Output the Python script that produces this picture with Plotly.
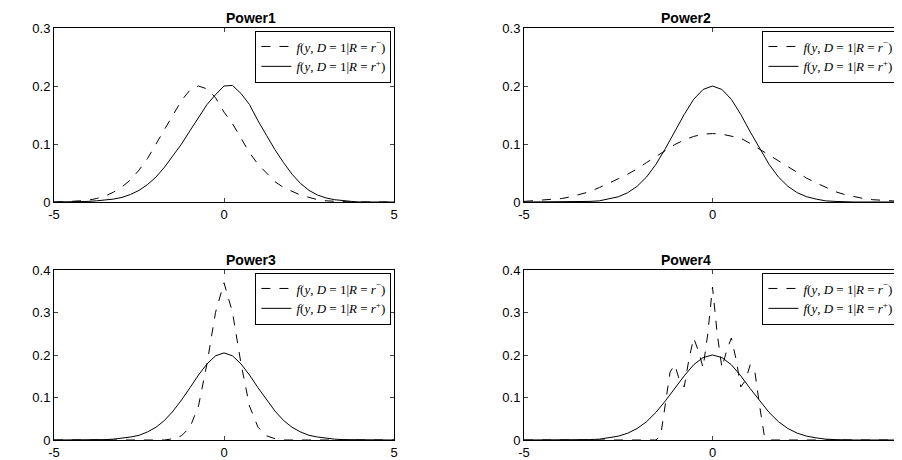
import plotly.graph_objects as go
from plotly.subplots import make_subplots

x = [-5, -4.75, -4.5, -4.25, -4, -3.75, -3.5, -3.25, -3, -2.75, -2.5, -2.25, -2, -1.75, -1.5, -1.25, -1, -0.75, -0.5, -0.25,
     0, 0.25, 0.5, 0.75, 1, 1.25, 1.5, 1.75, 2, 2.25, 2.5, 2.75, 3, 3.25, 3.5, 3.75, 4, 4.25, 4.5, 4.75, 5]

p1_minus = [0, 0, 0.001, 0.002, 0.003, 0.006, 0.01, 0.017, 0.026, 0.038, 0.055, 0.075, 0.1, 0.125, 0.15, 0.175, 0.193, 0.2, 0.195, 0.18,
            0.155, 0.135, 0.11, 0.085, 0.065, 0.05, 0.035, 0.025, 0.018, 0.012, 0.008, 0.004, 0.002, 0.001, 0, 0, 0, 0, 0, 0, 0]
p1_plus = [0, 0, 0, 0, 0.001, 0.002, 0.003, 0.005, 0.008, 0.013, 0.02, 0.03, 0.043, 0.06, 0.08, 0.1, 0.123, 0.145, 0.168, 0.185,
           0.2, 0.201, 0.187, 0.168, 0.14, 0.115, 0.09, 0.068, 0.048, 0.032, 0.02, 0.012, 0.007, 0.004, 0.002, 0.001, 0, 0, 0, 0, 0]

p2_minus = [0.001, 0.002, 0.003, 0.004, 0.006, 0.009, 0.013, 0.018, 0.025, 0.032, 0.04, 0.048, 0.057, 0.068, 0.078, 0.088, 0.099, 0.107, 0.113, 0.117,
            0.118, 0.117, 0.114, 0.11, 0.101, 0.091, 0.081, 0.071, 0.061, 0.051, 0.041, 0.033, 0.025, 0.018, 0.013, 0.009, 0.006, 0.004, 0.003, 0.002, 0.001]
p2_plus = [0, 0, 0, 0, 0, 0, 0, 0.001, 0.002, 0.005, 0.009, 0.016, 0.027, 0.043, 0.065, 0.092, 0.121, 0.151, 0.177, 0.194,
           0.2, 0.194, 0.177, 0.151, 0.121, 0.092, 0.065, 0.043, 0.027, 0.016, 0.009, 0.005, 0.002, 0.001, 0, 0, 0, 0, 0, 0, 0]

p3_minus = [0, 0, 0, 0, 0, 0, 0, 0, 0, 0, 0, 0, 0, 0, 0.003, 0.01, 0.03, 0.08, 0.18, 0.3,
            0.37, 0.3, 0.18, 0.08, 0.03, 0.01, 0.003, 0, 0, 0, 0, 0, 0, 0, 0, 0, 0, 0, 0, 0, 0]
p3_plus = [0, 0, 0, 0, 0, 0.001, 0.001, 0.002, 0.004, 0.007, 0.011, 0.019, 0.03, 0.046, 0.068, 0.094, 0.123, 0.153, 0.179, 0.198,
           0.205, 0.198, 0.179, 0.153, 0.123, 0.094, 0.068, 0.046, 0.03, 0.019, 0.011, 0.007, 0.004, 0.002, 0.001, 0.001, 0, 0, 0, 0, 0]

x4 = [-5, -1.5, -1.375, -1.25, -1.125, -1, -0.875, -0.75, -0.625, -0.5, -0.375, -0.25, -0.125,
      0, 0.125, 0.25, 0.375, 0.5, 0.625, 0.75, 0.875, 1, 1.125, 1.25, 1.375, 1.5, 5]
p4_minus = [0, 0, 0.01, 0.08, 0.16, 0.177, 0.14, 0.125, 0.19, 0.24, 0.21, 0.17, 0.25,
            0.36, 0.25, 0.17, 0.21, 0.24, 0.19, 0.125, 0.14, 0.177, 0.16, 0.08, 0.01, 0, 0]
p4_plus = p2_plus

titles = ["Power1", "Power2", "Power3", "Power4"]
lab_minus = "<i>f</i>(<i>y</i>, <i>D</i> = 1|<i>R</i> = <i>r</i><sup>−</sup>)"
lab_plus = "<i>f</i>(<i>y</i>, <i>D</i> = 1|<i>R</i> = <i>r</i><sup>+</sup>)"

fig = make_subplots(rows=2, cols=2)
panels = [(x, p1_minus, x, p1_plus), (x, p2_minus, x, p2_plus),
          (x, p3_minus, x, p3_plus), (x4, p4_minus, x, p4_plus)]

W, H = 902, 460
ML, MR, MT, MB = 40, 5, 18, 24
PW, PH = W - ML - MR, H - MT - MB


def fx(px):
    return (px - ML) / PW


def fy(py):
    return (H - MB - py) / PH


xdom = [[fx(46), fx(386)], [fx(516), fx(893)]]
ydom = [[fy(194), fy(20)], [fy(432), fy(262)]]

for i, (xa, ya, xb, yb) in enumerate(panels):
    r, c = i // 2, i % 2
    leg = "legend" if i == 0 else f"legend{i + 1}"
    fig.add_trace(go.Scatter(x=xa, y=ya, mode="lines", name=lab_minus, legend=leg,
                             line=dict(color="black", width=1, dash="dash")), row=r + 1, col=c + 1)
    fig.add_trace(go.Scatter(x=xb, y=yb, mode="lines", name=lab_plus, legend=leg,
                             line=dict(color="black", width=1)), row=r + 1, col=c + 1)
    ax = "" if i == 0 else str(i + 1)
    top = 0.3 if r == 0 else 0.4
    fig.layout["xaxis" + ax].update(domain=xdom[c], range=[-5, 5], tickvals=[-5, 0, 5], ticktext=["-5", "0", "5"],
                                    ticks="inside", ticklen=4, mirror="ticks", showline=True, linecolor="black",
                                    linewidth=1, showgrid=False, zeroline=False, automargin=False)
    fig.layout["yaxis" + ax].update(domain=ydom[r], range=[0, top], dtick=0.1, tickformat=".1~f",
                                    ticks="inside", ticklen=4, mirror="ticks", showline=True, linecolor="black",
                                    linewidth=1, showgrid=False, zeroline=False, automargin=False)
    fig.layout[leg] = dict(x=xdom[c][1] - 0.003, y=ydom[r][1] - 0.006, xanchor="right", yanchor="top",
                           bgcolor="white", bordercolor="black", borderwidth=1,
                           font=dict(family="Liberation Serif", size=13), tracegroupgap=0)
    fig.add_annotation(text="<b>" + titles[i] + "</b>", xref="paper", yref="paper",
                       x=sum(xdom[c]) / 2, y=ydom[r][1], yanchor="bottom", showarrow=False,
                       font=dict(family="Liberation Sans", size=14, color="black"))

fig.update_layout(width=W, height=H, margin=dict(l=ML, r=MR, t=MT, b=MB),
                  plot_bgcolor="white", paper_bgcolor="white",
                  font=dict(family="Liberation Sans", size=13, color="black"))
fig.write_html("out.html")
